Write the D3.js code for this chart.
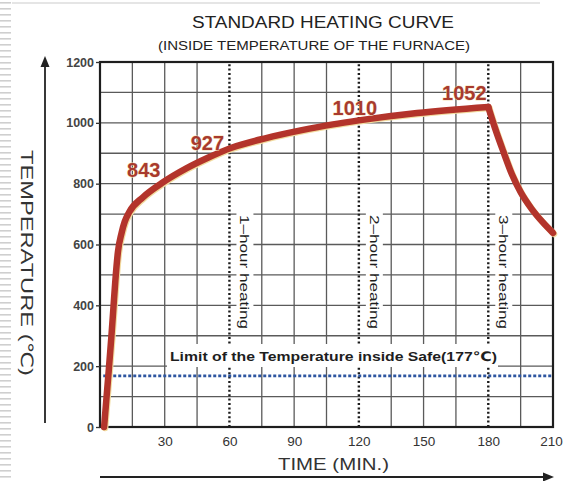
<!DOCTYPE html>
<html>
<head>
<meta charset="utf-8">
<title>Standard Heating Curve</title>
<script src="https://cdn.jsdelivr.net/npm/d3@7"></script>
<style>
  body { margin: 0; background: #fff; }
  svg  { font-family: "Liberation Sans", Arial, "DejaVu Sans", sans-serif; }
</style>
</head>
<body>
<svg id="chart" width="563" height="481"></svg>
<script>
// heating curve (minutes, deg C)
var heatTime = [1.9, 3.0, 4.1, 5.2, 6.2, 7.1, 8.3, 10, 11.5, 13.5, 20, 28.7, 40, 50, 61, 77, 93, 108, 120, 147, 180];
var heatTemp = [0, 95, 190, 290, 390, 480, 575, 638, 676, 706, 756, 802, 850, 885, 918, 950, 975, 995, 1008, 1032, 1052];
// cooling after 3 hours
var coolTime = [180, 183, 187, 191, 195, 200, 205, 210];
var coolTemp = [1052, 985, 905, 830, 772, 718, 675, 638];

var markTime = [30, 60, 120, 180];
var markTemp = [843, 927, 1010, 1052];

var hourTime = [60, 120, 180];
var hourLabels = ["1\u2013hour heating", "2\u2013hour heating", "3\u2013hour heating"];

var safeTemp = 168;
var safeLabel = "Limit of the Temperature inside Safe(177\u2103)";

var xTicks = [30, 60, 90, 120, 150, 180, 210];
var yTicks = [0, 200, 400, 600, 800, 1000, 1200];

var svg = d3.select("#chart");
var x = d3.scaleLinear().domain([0, 210]).range([100, 553]);
var y = d3.scaleLinear().domain([0, 1200]).range([427, 62]);

// slide background bits
var pat = svg.append("defs").append("pattern")
  .attr("id", "stripes").attr("width", 12).attr("height", 6)
  .attr("patternUnits", "userSpaceOnUse");
pat.append("rect").attr("width", 11).attr("height", 1.6).attr("y", 2).attr("fill", "#cfcfcf");
svg.append("rect").attr("x", 0).attr("y", 0).attr("width", 11).attr("height", 481).attr("fill", "url(#stripes)");
svg.append("line").attr("x1", 12).attr("x2", 540).attr("y1", 3).attr("y2", 3)
  .attr("stroke", "#dcdcdc").attr("stroke-width", 1.5);

// grid
var gridX = d3.range(15, 210, 15).filter(function(t) { return hourTime.indexOf(t) < 0; });
svg.append("g").selectAll("line").data(gridX).join("line")
  .attr("x1", function(d) { return x(d); }).attr("x2", function(d) { return x(d); })
  .attr("y1", y(0)).attr("y2", y(1200))
  .attr("stroke", "#5a5a5a").attr("stroke-width", 1.3);
svg.append("g").selectAll("line").data(d3.range(100, 1200, 100)).join("line")
  .attr("x1", x(0)).attr("x2", x(210))
  .attr("y1", function(d) { return y(d); }).attr("y2", function(d) { return y(d); })
  .attr("stroke", "#5a5a5a").attr("stroke-width", 1.3);

// hour markers (dotted)
svg.append("g").selectAll("line").data(hourTime).join("line")
  .attr("x1", function(d) { return x(d); }).attr("x2", function(d) { return x(d); })
  .attr("y1", y(0)).attr("y2", y(1200))
  .attr("stroke", "#1a1a1a").attr("stroke-width", 2.4).attr("stroke-dasharray", "2,2.4");

// white boxes behind labels
svg.selectAll(".hbox").data(hourTime).join("rect")
  .attr("x", function(d) { return x(d) + 7; }).attr("y", 207)
  .attr("width", 17).attr("height", 124).attr("fill", "#fff");
svg.append("rect").attr("x", 167).attr("y", 344).attr("width", 331).attr("height", 23).attr("fill", "#fff");

// safe limit
svg.append("line")
  .attr("x1", x(1.5)).attr("x2", x(210)).attr("y1", y(safeTemp)).attr("y2", y(safeTemp))
  .attr("stroke", "#2d55a0").attr("stroke-width", 2.6).attr("stroke-dasharray", "3,2");
svg.append("text").attr("x", 170).attr("y", 361)
  .attr("textLength", 327).attr("lengthAdjust", "spacingAndGlyphs")
  .attr("font-size", 13).attr("font-weight", "bold").attr("fill", "#1e1e1e")
  .text(safeLabel);

// frame
svg.append("rect").attr("x", x(0)).attr("y", y(1200))
  .attr("width", x(210) - x(0)).attr("height", y(0) - y(1200))
  .attr("fill", "none").attr("stroke", "#1e1e1e").attr("stroke-width", 2.2);

// axes labels
var yAxis = svg.append("g").attr("transform", "translate(" + x(0) + ",0)")
  .call(d3.axisLeft(y).tickValues(yTicks).tickFormat(d3.format("d")).tickSize(4).tickPadding(2));
yAxis.select(".domain").remove();
yAxis.selectAll("line").attr("stroke", "#333").attr("stroke-width", 1.3);
yAxis.selectAll("text").attr("font-size", 12.5).attr("font-weight", "bold").attr("fill", "#444")
  .attr("font-family", "Liberation Sans, Arial, sans-serif");

var xAxis = svg.append("g").attr("transform", "translate(0," + y(0) + ")")
  .call(d3.axisBottom(x).tickValues(xTicks).tickSize(0).tickPadding(9));
xAxis.select(".domain").remove();
xAxis.selectAll("text").attr("font-size", 13.5).attr("fill", "#333")
  .attr("font-family", "Liberation Sans, Arial, sans-serif");
xAxis.selectAll("text").filter(function(d) { return d === 210; }).attr("dx", -2);

// hour texts
svg.selectAll(".htxt").data(hourTime).join("text")
  .attr("transform", function(d) { return "translate(" + (x(d) + 15.5) + ",272) rotate(90)"; })
  .attr("text-anchor", "middle").attr("dy", "0.35em")
  .attr("font-size", 13.5).attr("fill", "#1e1e1e")
  .attr("textLength", 114).attr("lengthAdjust", "spacingAndGlyphs")
  .text(function(d, i) { return hourLabels[i]; });

// curve
var line = d3.line().x(function(d) { return x(d[0]); }).y(function(d) { return y(d[1]); })
  .curve(d3.curveMonotoneX);
var heat = heatTime.map(function(t, i) { return [t, heatTemp[i]]; });
var cool = coolTime.map(function(t, i) { return [t, coolTemp[i]]; });
[heat, cool].forEach(function(pts) {
  svg.append("path").attr("d", line(pts)).attr("transform", "translate(1,1)")
    .attr("fill", "none").attr("stroke", "#f2dca0").attr("stroke-width", 6.5)
    .attr("stroke-linejoin", "round").attr("stroke-linecap", "round");
});
[heat, cool].forEach(function(pts) {
  svg.append("path").attr("d", line(pts))
    .attr("fill", "none").attr("stroke", "#b3342b").attr("stroke-width", 6.5)
    .attr("stroke-linejoin", "round").attr("stroke-linecap", "round");
});

// point labels
var markDx = [-21, -22, -4, -24];
var markDy = [6, 5, -5, -7];
svg.selectAll(".mark").data(markTime).join("text")
  .attr("x", function(d, i) { return x(d) + markDx[i]; })
  .attr("y", function(d, i) { return y(markTemp[i]) + markDy[i]; })
  .attr("text-anchor", "middle").attr("font-size", 20).attr("font-weight", "bold")
  .attr("fill", "#a83a2e").attr("stroke", "#f6e4bb").attr("stroke-width", 0.8)
  .attr("paint-order", "stroke")
  .text(function(d, i) { return markTemp[i]; });

// titles
svg.append("text").attr("x", 323).attr("y", 28).attr("text-anchor", "middle")
  .attr("font-size", 16).attr("fill", "#222")
  .attr("textLength", 262).attr("lengthAdjust", "spacingAndGlyphs")
  .text("STANDARD HEATING CURVE");
svg.append("text").attr("x", 314).attr("y", 50).attr("text-anchor", "middle")
  .attr("font-size", 13).attr("fill", "#222")
  .attr("textLength", 312).attr("lengthAdjust", "spacingAndGlyphs")
  .text("(INSIDE TEMPERATURE OF THE FURNACE)");

svg.append("text").attr("transform", "translate(27,263) rotate(90)")
  .attr("text-anchor", "middle").attr("dy", "0.35em")
  .attr("font-size", 17).attr("fill", "#333")
  .attr("textLength", 226).attr("lengthAdjust", "spacingAndGlyphs")
  .text("TEMPERATURE (\u2103)");

svg.append("text").attr("x", 278).attr("y", 470)
  .attr("font-size", 17).attr("fill", "#333")
  .attr("textLength", 111).attr("lengthAdjust", "spacingAndGlyphs")
  .text("TIME (MIN.)");

// axis arrows
svg.append("line").attr("x1", 45).attr("x2", 45).attr("y1", 423).attr("y2", 64)
  .attr("stroke", "#222").attr("stroke-width", 1.8);
svg.append("path").attr("d", "M45,56 L40.5,67 L49.5,67 Z").attr("fill", "#222");
svg.append("line").attr("x1", 100).attr("x2", 546).attr("y1", 477).attr("y2", 477)
  .attr("stroke", "#222").attr("stroke-width", 1.8);
svg.append("path").attr("d", "M554,477 L543,472.5 L543,481.5 Z").attr("fill", "#222");
</script>
</body>
</html>
